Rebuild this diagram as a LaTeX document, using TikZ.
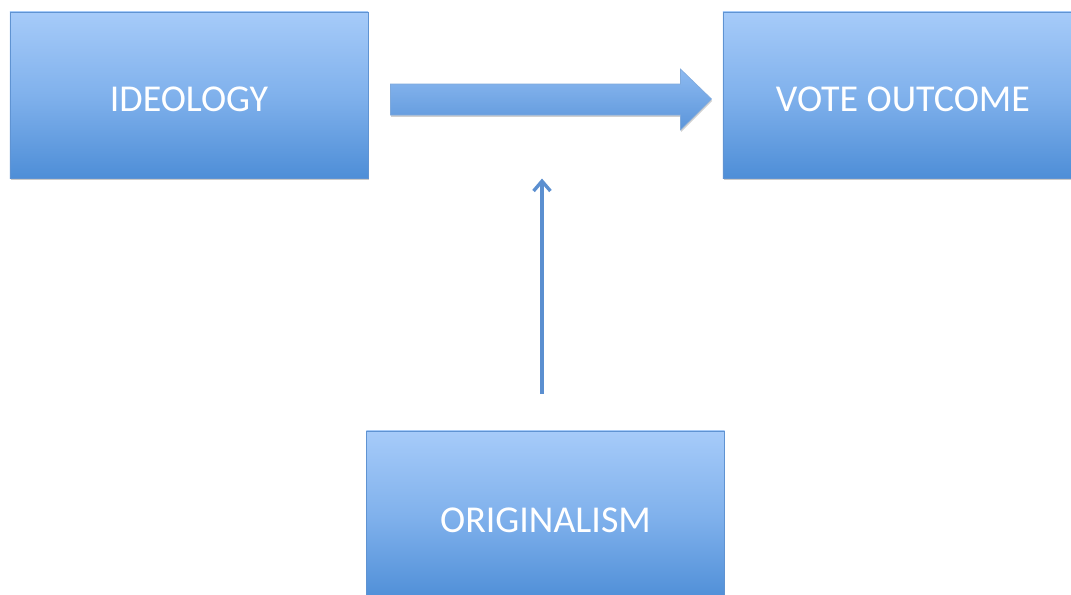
\documentclass[tikz,border=0pt]{standalone}
\usepackage{fontspec}
\setmainfont{Carlito}
\usetikzlibrary{arrows.meta,calc,shadows}
\definecolor{boxtop}{HTML}{A6CBF9}
\definecolor{boxmid}{HTML}{80B1EC}
\definecolor{boxbot}{HTML}{4E8ED7}
\definecolor{boxline}{HTML}{5F93D2}
\definecolor{arrtop}{HTML}{8DBAF1}
\definecolor{arrbot}{HTML}{5B95DA}
\definecolor{thinline}{HTML}{5B8FD0}
\begin{document}
\begin{tikzpicture}[x=0.025cm,y=-0.025cm,
  box/.style={draw=boxline, line width=0.6pt, top color=boxtop, bottom color=boxbot, middle color=boxmid,
    minimum width=8.95cm, minimum height=4.15cm, inner sep=0pt,
    text=white, font=\fontsize{27}{32}\selectfont, text height=0.81cm, text depth=0pt,
    drop shadow={opacity=0.35, shadow xshift=0.6pt, shadow yshift=-1.6pt, fill=black!60}},
  blockarrow/.style={draw=boxline!80, line width=0.4pt, top color=arrtop, bottom color=arrbot,
    drop shadow={opacity=0.3, shadow xshift=0.5pt, shadow yshift=-1.4pt, fill=black!60}},
  thinarrow/.style={draw=thinline, line width=2.5pt, -{Straight Barb[length=7pt,width=12pt,line width=2.4pt]}}
]
\useasboundingbox (0,0) rectangle (1071,594);
\clip (0,0) rectangle (1071,594);
\fill[white] (0,0) rectangle (1071,594);

\node[box] (ideo) at (189,95) {IDEOLOGY};
\node[box, minimum width=9cm] (vote) at (903,95) {VOTE OUTCOME};
\node[box, minimum height=4.25cm] (orig) at (545.5,516) {ORIGINALISM};

% block arrow from ideology to vote outcome
\path[blockarrow]
  ($(ideo.east)+(22,-11)$) -- ++(290,0) -- ++(0,-15) -- ($(vote.west)+(-11,4)$)
  -- ($(ideo.east)+(312,35)$) -- ++(0,-15) -- ($(ideo.east)+(22,20)$) -- cycle;

% thin arrow from originalism up
\coordinate (tstart) at ($(orig.north)+(-3.5,-37)$);
\coordinate (tend) at ($(orig.north)+(-3.5,-252)$);
\draw[thinarrow] (tstart) -- (tend);
\end{tikzpicture}
\end{document}
